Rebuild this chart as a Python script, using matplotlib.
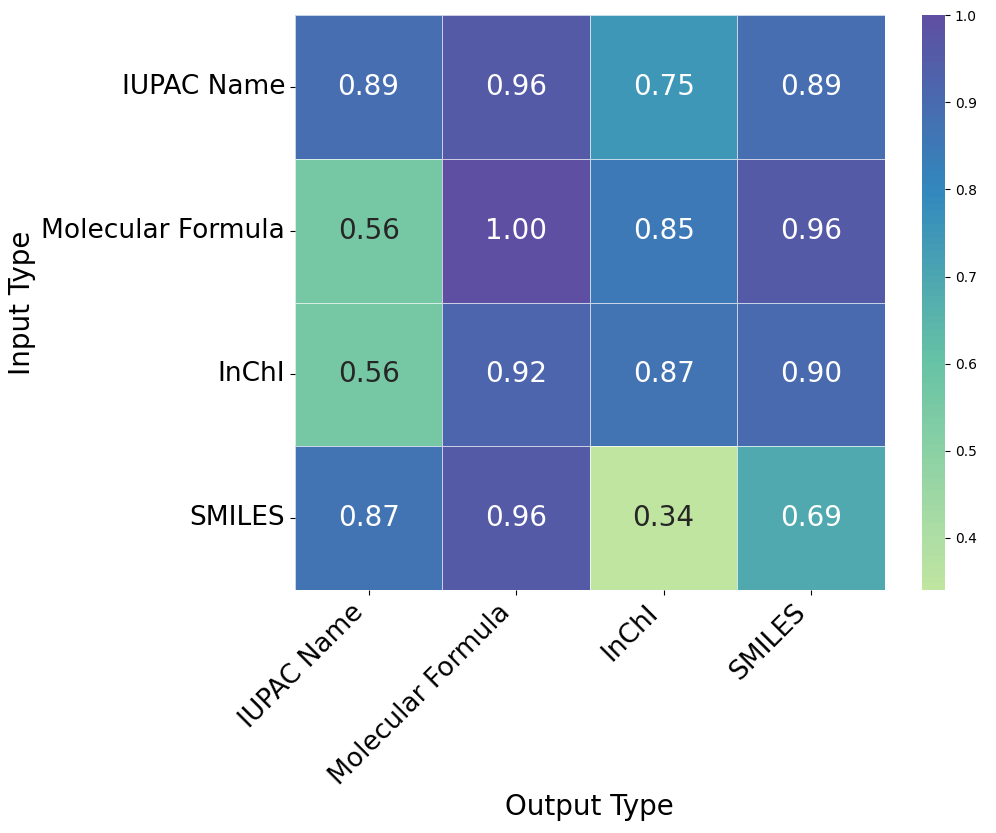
import numpy as np
import matplotlib
matplotlib.use("Agg")
import matplotlib.pyplot as plt
import matplotlib.colors as mcolors
import seaborn as sns

input_types = ["IUPAC Name", "Molecular Formula", "InChI", "SMILES"]
output_types = ["IUPAC Name", "Molecular Formula", "InChI", "SMILES"]
scores = np.array([
    [0.89, 0.96, 0.75, 0.89],
    [0.56, 1.00, 0.85, 0.96],
    [0.56, 0.92, 0.87, 0.90],
    [0.87, 0.96, 0.34, 0.69],
])

# upper part of Spectral: light green -> purple
spectral = plt.get_cmap("Spectral")
cmap = mcolors.LinearSegmentedColormap.from_list(
    "spectral_tail", spectral(np.linspace(0.665, 1.0, 256)))

fig = plt.figure(figsize=(9.96, 8.33), dpi=100)
ax = fig.add_axes([0.296, 0.2917, 0.5924, 0.690])
cax = fig.add_axes([0.9257, 0.2917, 0.0231, 0.690])

sns.heatmap(scores, ax=ax, cbar_ax=cax, cmap=cmap, annot=True, fmt=".2f",
            annot_kws={"size": 20}, linewidths=0.6, linecolor=(1, 1, 1, 0.7),
            xticklabels=output_types, yticklabels=input_types)

ax.set_xticklabels(output_types, rotation=45, ha="right", fontsize=19)
ax.set_yticklabels(input_types, rotation=0, fontsize=19)
ax.set_xlabel("Output Type", fontsize=20, labelpad=2)
ax.set_ylabel("Input Type", fontsize=20)
cax.tick_params(labelsize=10)

fig.savefig("out.png", dpi=100)
